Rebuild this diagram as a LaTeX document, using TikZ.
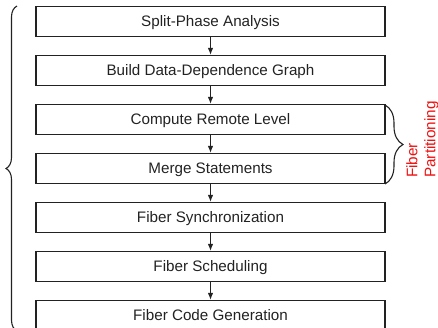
\documentclass[tikz,border=0pt]{standalone}
\usepackage{fontspec}
\setmainfont{Liberation Sans}
\usetikzlibrary{arrows.meta,decorations.pathreplacing}
\definecolor{ink}{HTML}{222222}
\definecolor{fpred}{HTML}{F01010}
\begin{document}
\begin{tikzpicture}[x=1pt,y=-1pt,
  stage/.style={draw=ink,line width=1.2pt,minimum width=349pt,minimum height=30pt,
    inner sep=0pt,text height=10.8pt,text depth=0pt,text=ink,
    font=\fontsize{15.2}{18}\selectfont},
  flow/.style={draw=ink,line width=1.1pt,-{Latex[length=7pt,width=5.5pt]}},
  bracestyle/.style={draw=ink,line width=1.1pt,decorate}]
\useasboundingbox (0,0) rectangle (438,327);
% pipeline stages
\node[stage] (s1) at (210.5,21.5)  {Split-Phase Analysis};
\node[stage] (s2) at (210.5,70.5)  {Build Data-Dependence Graph};
\node[stage] (s3) at (210.5,119.5) {Compute Remote Level};
\node[stage] (s4) at (210.5,168.5) {Merge Statements};
\node[stage] (s5) at (210.5,217.5) {Fiber Synchronization};
\node[stage] (s6) at (210.5,266.5) {Fiber Scheduling};
\node[stage] (s7) at (210.5,315.5) {Fiber Code Generation};
% arrows between stages
\foreach \a/\b in {s1/s2,s2/s3,s3/s4,s4/s5,s5/s6,s6/s7}
  \draw[flow] (\a.south) -- (\b.north);
% brace spanning the whole pipeline
\coordinate (lb) at (17,331);
\coordinate (lt) at (17,6);
\draw[bracestyle,decoration={brace,amplitude=11pt,aspect=0.5}] (lb) -- (lt);
% brace grouping the partitioning stages
\coordinate (rt) at (385,105);
\coordinate (rb) at (385,184);
\draw[bracestyle,decoration={brace,amplitude=18pt}] (rt) -- (rb);
\node[rotate=90,anchor=north west,inner sep=0pt,align=left,text=fpred,
  font=\fontsize{15.3}{18}\selectfont] (fp) at (406,178) {Fiber\\Partitioning};
\end{tikzpicture}
\end{document}
